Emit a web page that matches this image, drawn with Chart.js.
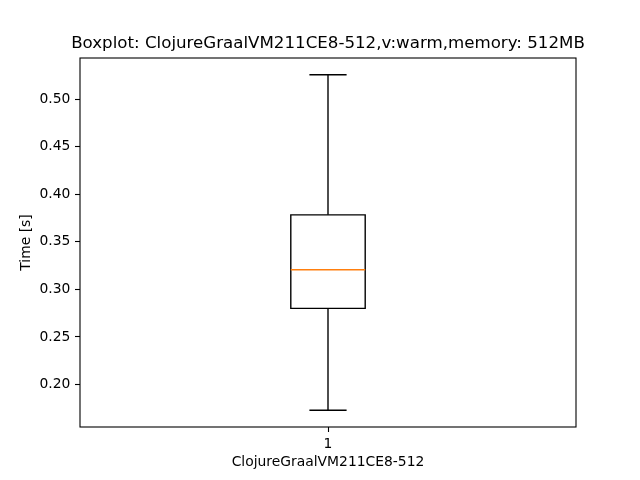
<!DOCTYPE html>
<html>
<head>
<meta charset="utf-8">
<script src="https://cdn.jsdelivr.net/npm/chart.js@4/dist/chart.umd.min.js"></script>
<style>
html,body{margin:0;padding:0;background:#fff;}
#wrap{width:640px;height:480px;}
</style>
</head>
<body>
<div id="wrap"><canvas id="c" width="640" height="480"></canvas></div>
<script>
// ---- data ----
const categories = ['ClojureGraalVM211CE8-512'];
const positions = [1];
const xTickLabels = ['1'];
const whiskerLow = [0.173];
const q1 = [0.280];
const median = [0.3206];
const q3 = [0.3783];
const whiskerHigh = [0.5255];
const yTicks = [0.20, 0.25, 0.30, 0.35, 0.40, 0.45, 0.50];
const titleText = 'Boxplot: ClojureGraalVM211CE8-512,v:warm,memory: 512MB';
const yTitle = 'Time [s]';

const FONT = 'DejaVu Sans';
const BOX_W = 0.15, CAP_W = 0.075;

const lo = Math.min(...whiskerLow), hi = Math.max(...whiskerHigh);
const span = hi - lo;

const boxPlugin = {
  id: 'boxdraw',
  afterDatasetsDraw(chart) {
    const ctx = chart.ctx, xs = chart.scales.x, ys = chart.scales.y, a = chart.chartArea;
    ctx.save();
    ctx.beginPath();
    ctx.rect(a.left, a.top, a.right - a.left, a.bottom - a.top);
    ctx.clip();
    positions.forEach((p, i) => {
      const xl = xs.getPixelForValue(p - BOX_W / 2), xr = xs.getPixelForValue(p + BOX_W / 2);
      const xc = xs.getPixelForValue(p);
      const cl = xs.getPixelForValue(p - CAP_W / 2), cr = xs.getPixelForValue(p + CAP_W / 2);
      const yq1 = ys.getPixelForValue(q1[i]), yq3 = ys.getPixelForValue(q3[i]);
      const ym = ys.getPixelForValue(median[i]);
      const ylo = ys.getPixelForValue(whiskerLow[i]), yhi = ys.getPixelForValue(whiskerHigh[i]);
      ctx.strokeStyle = '#000';
      ctx.lineWidth = 1.39;
      ctx.beginPath();
      ctx.moveTo(xc, yq3); ctx.lineTo(xc, yhi);
      ctx.moveTo(cl, yhi); ctx.lineTo(cr, yhi);
      ctx.moveTo(xc, yq1); ctx.lineTo(xc, ylo);
      ctx.moveTo(cl, ylo); ctx.lineTo(cr, ylo);
      ctx.stroke();
      ctx.beginPath();
      ctx.rect(xl, yq3, xr - xl, yq1 - yq3);
      ctx.stroke();
      ctx.strokeStyle = '#ff7f0e';
      ctx.beginPath();
      ctx.moveTo(xl, ym); ctx.lineTo(xr, ym);
      ctx.stroke();
    });
    ctx.restore();
    // frame
    ctx.save();
    ctx.strokeStyle = '#000';
    ctx.lineWidth = 1.1;
    ctx.strokeRect(a.left, a.top, a.right - a.left, a.bottom - a.top);
    ctx.restore();
  }
};

new Chart(document.getElementById('c'), {
  type: 'scatter',
  data: { datasets: [{ data: [] }] },
  plugins: [boxPlugin],
  options: {
    responsive: false,
    animation: false,
    layout: { padding: { left: 16, right: 0, top: 0, bottom: 0 } },
    plugins: {
      legend: { display: false },
      tooltip: { enabled: false },
      title: {
        display: true, text: titleText, color: '#000',
        font: { family: FONT, size: 16.67, weight: 'normal' },
        padding: { top: 33.5, bottom: 4.5 }
      }
    },
    scales: {
      x: {
        type: 'linear', min: 0.5, max: 1.5,
        afterFit(s) { s.height = 53; },
        afterBuildTicks(s) { s.ticks = positions.map(v => ({ value: v })); },
        ticks: {
          color: '#000', padding: 4.2,
          font: { family: FONT, size: 13.89 },
          callback: (v) => { const i = positions.indexOf(v); return i >= 0 ? xTickLabels[i] : ''; }
        },
        grid: { drawOnChartArea: false, drawTicks: true, tickLength: 5, color: '#000', tickWidth: 1.1 },
        border: { display: false },
        title: {
          display: true, text: categories[0], color: '#000',
          font: { family: FONT, size: 13.89 },
          padding: { top: 0, bottom: 9.5 }
        }
      },
      y: {
        type: 'linear', min: lo - 0.05 * span, max: hi + 0.05 * span,
        afterFit(s) { s.width = 64; },
        afterBuildTicks(s) { s.ticks = yTicks.map(v => ({ value: v })); },
        ticks: {
          color: '#000', padding: 4.7,
          font: { family: FONT, size: 13.89 },
          callback: (v) => Number(v).toFixed(2)
        },
        grid: { drawOnChartArea: false, drawTicks: true, tickLength: 5, color: '#000', tickWidth: 1.1 },
        border: { display: false },
        title: {
          display: true, text: yTitle, color: '#000',
          font: { family: FONT, size: 13.89 },
          padding: { top: 1.8, bottom: 0 }
        }
      },
      yRight: {
        type: 'linear', position: 'right', display: true,
        min: 0, max: 1,
        afterFit(s) { s.width = 64; },
        ticks: { display: false },
        grid: { display: false, drawTicks: false },
        border: { display: false }
      }
    }
  }
});
</script>
</body>
</html>
